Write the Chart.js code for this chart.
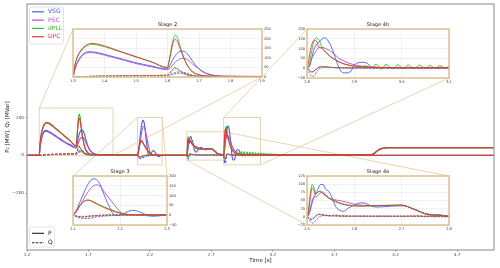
<!DOCTYPE html>
<html><head><meta charset="utf-8">
<script src="https://cdn.jsdelivr.net/npm/chart.js@4.4.1/dist/chart.umd.min.js"></script>
<style>
html,body{margin:0;padding:0;background:#fff;overflow:hidden;}
#wrap{position:relative;width:500px;height:268px;}
#wrap canvas{position:absolute;}
</style></head><body>
<div id="wrap"><canvas id="main" width="500" height="268" style="left:0;top:0;width:500px;height:268px"></canvas></div>
<script>
// ---------------- DATA ----------------
const SERIES = ['VSG', 'PSC', 'dPLL', 'DPC'];
const MAIN_X_TICKS = [1.2, 1.7, 2.2, 2.7, 3.2, 3.7, 4.2, 4.7];
const MAIN_Y_TICKS = [-200, 0, 200];
const MAIN_X_RANGE = [1.2, 5.0];
const MAIN_Y_RANGE = [-500, 800];

const STAGE_TITLES = ['Stage 2', 'Stage 3', 'Stage 4a', 'Stage 4b'];
const STAGE_X = [[1.3, 1.9], [2.1, 2.3], [2.5, 2.8], [2.8, 3.1]];
const STAGE_Y = [[0, 250], [-50, 200], [-25, 125], [-50, 200]];
const STAGE_XTICKS = [[1.3,1.4,1.5,1.6,1.7,1.8,1.9],[2.1,2.2,2.3],[2.5,2.6,2.7,2.8],[2.8,2.9,3.0,3.1]];
const STAGE_YTICKS = [[0,50,100,150,200,250],[-50,0,50,100,150,200],[-25,0,25,50,75,100,125],[-50,0,50,100,150,200]];

// common final ramp of active power
const RAMP_P = [[4.0,3],[4.01,5],[4.03,13],[4.05,24],[4.07,32],[4.09,37],[4.11,39],[4.14,40],[5.0,40]];

const VSG_P = [
[1.2,0],[1.3,0],[1.305,35],[1.31,62],[1.32,95],[1.33,117],[1.34,128],[1.35,132],[1.36,131],[1.38,126],[1.40,118],[1.43,105],[1.46,92],[1.50,74],[1.55,57],[1.60,42],
[1.605,52],[1.61,68],[1.62,100],[1.63,122],[1.64,133],[1.65,135],[1.66,126],[1.67,106],[1.68,82],[1.69,60],[1.70,42],[1.72,20],[1.75,7],[1.80,3],[2.0,2],[2.1,2],
[2.105,15],[2.11,40],[2.115,68],[2.12,97],[2.125,125],[2.13,150],[2.135,170],[2.14,182],[2.145,186],[2.15,181],[2.157,160],[2.162,130],[2.167,100],[2.172,70],[2.178,41],[2.185,8],[2.19,0],[2.195,-2],[2.2,0],[2.21,10],[2.22,22],[2.228,25],[2.24,18],[2.25,8],[2.26,-2],[2.27,-5],[2.28,-4],[2.3,0],[2.4,1],[2.5,1],
[2.504,7],[2.514,58],[2.521,78],[2.529,99],[2.534,99],[2.539,85],[2.546,78],[2.553,58],[2.56,33],[2.567,22],[2.577,17],[2.588,27],[2.602,38],[2.616,43],[2.626,40],[2.637,32],[2.65,30],[2.68,33],[2.705,34],[2.72,27],[2.735,18],[2.75,9],[2.765,6],[2.78,5],[2.8,2],
[2.803,3],[2.807,24],[2.814,91],[2.821,125],[2.826,133],[2.832,150],[2.838,155],[2.843,145],[2.85,117],[2.857,74],[2.864,24],[2.871,-14],[2.878,-24],[2.885,-24],[2.893,-14],[2.9,15],[2.907,27],[2.917,30],[2.928,24],[2.935,7],[2.946,2],[2.97,4],[3.0,3],[3.1,3],
...RAMP_P];

const PSC_P = [
[1.2,0],[1.3,0],[1.305,32],[1.31,58],[1.32,90],[1.33,112],[1.34,123],[1.35,127],[1.36,127],[1.38,122],[1.40,114],[1.43,101],[1.46,88],[1.50,70],[1.55,53],[1.60,38],
[1.61,50],[1.62,70],[1.63,85],[1.64,94],[1.65,97],[1.66,93],[1.67,82],[1.68,67],[1.70,42],[1.72,22],[1.75,8],[1.80,3],[2.0,2],[2.1,2],
[2.105,10],[2.11,28],[2.12,70],[2.13,112],[2.14,143],[2.15,155],[2.155,152],[2.164,128],[2.17,108],[2.178,83],[2.185,62],[2.193,38],[2.2,18],[2.205,8],[2.21,4],[2.22,2],[2.3,1],[2.5,1],
[2.5035,7],[2.5105,48],[2.514,58],[2.521,63],[2.528,73],[2.533,76],[2.539,70],[2.546,58],[2.556,53],[2.567,50],[2.581,46],[2.602,38],[2.623,35],[2.66,34],[2.7,35],[2.705,34],[2.72,27],[2.735,18],[2.75,9],[2.765,6],[2.78,5],[2.8,2],
[2.805,7],[2.81,49],[2.818,83],[2.825,105],[2.832,106],[2.84,100],[2.847,91],[2.857,74],[2.867,52],[2.882,32],[2.896,20],[2.917,10],[2.946,5],[3.0,3],[3.1,3],
...RAMP_P];

const DPLL_P = [
[1.2,0],[1.3,0],[1.303,33],[1.307,66],[1.31,84],[1.315,106],[1.32,122],[1.33,145],[1.34,159],[1.35,167],[1.36,170],[1.37,169],[1.38,166],[1.40,158],[1.43,142],[1.46,126],[1.50,104],[1.55,78],[1.60,50],
[1.605,85],[1.61,130],[1.615,175],[1.62,205],[1.625,219],[1.63,210],[1.635,190],[1.64,160],[1.65,110],[1.66,70],[1.67,42],[1.68,25],[1.70,10],[1.73,4],[1.8,3],[2.0,2],[2.1,2],
[2.105,16],[2.11,34],[2.115,51],[2.12,64],[2.125,73],[2.132,78],[2.14,73],[2.15,61],[2.157,52],[2.165,43],[2.178,31],[2.19,20],[2.2,13],[2.21,7],[2.22,4],[2.24,2],[2.3,1],[2.5,1],
[2.502,9],[2.506,60],[2.511,99],[2.515,88],[2.519,72],[2.523,75],[2.528,79],[2.534,72],[2.546,57],[2.56,46],[2.574,39],[2.588,35],[2.609,33],[2.651,34],[2.7,36],[2.705,35],[2.72,27],[2.735,19],[2.75,10],[2.76,8],[2.77,4],[2.78,7],[2.79,3],[2.8,2],
[2.8035,7],[2.809,74],[2.814,133],[2.82,154],[2.825,145],[2.832,108],[2.839,83],[2.85,57],[2.86,41],[2.875,24],[2.889,15],[2.9,10],[2.912,3],[2.923,12],[2.935,2],[2.946,20],[2.957,-4],[2.967,20],[2.98,-3],[2.992,18],[3.003,-3],[3.014,17],[3.026,-2],[3.038,16],[3.049,-1],[3.06,14],[3.071,0],[3.081,13],[3.092,1],[3.103,12],[3.115,1],[3.126,11],[3.137,2],[3.148,10],[3.16,2],[3.171,9],[3.182,2],[3.193,8],[3.205,3],[3.216,7],[3.227,3],[3.238,6],[3.25,3],[3.3,3],
...RAMP_P];

const DPC_P = [
[1.2,0],[1.3,0],[1.303,35],[1.307,70],[1.31,88],[1.315,110],[1.32,127],[1.33,150],[1.34,164],[1.35,172],[1.36,175],[1.37,174],[1.38,171],[1.40,162],[1.43,145],[1.46,128],[1.50,106],[1.55,78],[1.60,48],
[1.605,80],[1.61,120],[1.615,160],[1.62,188],[1.625,196],[1.63,190],[1.635,172],[1.64,148],[1.65,105],[1.66,70],[1.67,45],[1.68,28],[1.70,12],[1.73,5],[1.8,3],[2.0,2],[2.1,2],
[2.105,15],[2.11,33],[2.115,50],[2.12,63],[2.125,72],[2.132,77],[2.14,70],[2.15,58],[2.157,49],[2.165,40],[2.178,27],[2.19,17],[2.2,10],[2.21,5],[2.22,2],[2.24,2],[2.3,1],[2.5,1],
[2.502,7],[2.507,58],[2.5105,88],[2.514,83],[2.5175,68],[2.521,73],[2.526,78],[2.532,73],[2.546,58],[2.56,48],[2.574,40],[2.588,36],[2.609,33],[2.651,35],[2.7,36],[2.705,35],[2.72,27],[2.735,18],[2.75,9],[2.765,6],[2.78,5],[2.8,2],
[2.802,15],[2.807,91],[2.812,133],[2.816,142],[2.821,133],[2.825,110],[2.832,100],[2.843,74],[2.853,54],[2.868,32],[2.889,15],[2.917,7],[2.96,3],[3.1,3],
...RAMP_P];

const VSG_Q = [
[1.2,0],[1.3,0],[1.35,3],[1.45,6],[1.55,8],[1.6,8],[1.61,14],[1.62,20],[1.63,25],[1.64,27],[1.65,25],[1.66,20],[1.67,14],[1.68,9],[1.70,5],[1.75,3],[2.1,2],
[2.105,-6],[2.11,-11],[2.12,-16],[2.13,-17],[2.14,-14],[2.15,-9],[2.17,-4],[2.2,-1],[2.23,1],[2.26,-3],[2.3,0],[2.5,0],
[2.505,-10],[2.512,-19],[2.518,-12],[2.525,-2],[2.53,3],[2.54,5],[2.55,3],[2.56,6],[2.57,3],[2.6,2],[2.7,1],[2.8,0],
[2.805,-25],[2.81,-42],[2.815,-38],[2.82,-20],[2.825,-5],[2.83,3],[2.84,6],[2.85,4],[2.87,2],[2.9,1],[3.1,0],[5.0,0]];

const PSC_Q = [
[1.2,0],[1.3,0],[1.35,3],[1.45,5],[1.55,7],[1.6,7],[1.61,11],[1.62,15],[1.63,18],[1.64,20],[1.65,19],[1.66,16],[1.67,12],[1.68,8],[1.70,5],[1.75,3],[2.1,2],
[2.105,-3],[2.11,-7],[2.12,-9],[2.13,-8],[2.14,-6],[2.16,-2],[2.2,1],[2.3,1],[2.5,1],
[2.505,-4],[2.51,-8],[2.515,-4],[2.52,3],[2.525,7],[2.53,8],[2.54,5],[2.56,3],[2.6,2],[2.7,2],[2.8,1],
[2.805,-10],[2.81,-18],[2.815,-14],[2.82,-4],[2.825,4],[2.83,7],[2.84,6],[2.86,3],[2.9,2],[3.0,1],[5.0,0]];

const DPLL_Q = [
[1.2,0],[1.3,0],[1.35,3],[1.45,6],[1.55,8],[1.6,10],[1.605,18],[1.61,28],[1.615,40],[1.62,48],[1.625,50],[1.63,45],[1.64,33],[1.65,20],[1.66,12],[1.68,5],[1.70,3],[2.1,2],
[2.105,-3],[2.11,-7],[2.12,-8],[2.13,-6],[2.14,-3],[2.16,0],[2.2,2],[2.3,1],[2.5,1],
[2.505,-6],[2.51,-9],[2.515,-3],[2.52,5],[2.525,8],[2.53,6],[2.54,4],[2.56,3],[2.6,2],[2.7,2],[2.74,4],[2.75,0],[2.76,5],[2.77,-1],[2.78,4],[2.79,0],[2.8,1],
[2.805,-12],[2.81,-20],[2.815,-15],[2.82,-3],[2.825,5],[2.83,8],[2.84,6],[2.86,3],[2.9,2],[2.946,6],[2.957,-2],[2.967,6],[2.98,-2],[2.992,5],[3.003,-1],[3.014,5],[3.026,-1],[3.038,4],[3.05,0],[3.06,3],[3.1,1],[5.0,0]];

const DPC_Q = [
[1.2,0],[1.3,0],[1.35,3],[1.45,6],[1.55,8],[1.6,10],[1.605,17],[1.61,25],[1.615,36],[1.62,42],[1.625,45],[1.63,42],[1.64,32],[1.65,20],[1.66,12],[1.68,5],[1.70,3],[2.1,2],
[2.105,-3],[2.11,-7],[2.12,-8],[2.13,-6],[2.14,-3],[2.16,0],[2.2,2],[2.3,1],[2.5,1],
[2.505,-5],[2.51,-8],[2.515,-2],[2.52,5],[2.525,8],[2.53,6],[2.54,4],[2.56,3],[2.6,2],[2.7,2],[2.8,1],
[2.805,-12],[2.81,-20],[2.815,-15],[2.82,-3],[2.825,5],[2.83,8],[2.84,6],[2.86,3],[2.9,2],[3.0,1],[5.0,0]];

const P_DATA = [VSG_P, PSC_P, DPLL_P, DPC_P];
const Q_DATA = [VSG_Q, PSC_Q, DPLL_Q, DPC_Q];

// ---------------- STYLE / LAYOUT ----------------
const COLORS = ['#3f63e6', '#b04fd0', '#2ec52e', '#e63535'];
const TAN_FRAME = '#dcc290';
const TAN_LINE = '#e4d1a8';
const FONT = "'DejaVu Sans', sans-serif";
Chart.defaults.font.family = FONT;

const INSET_LAYOUT = [
  {area:[73,29,262,77],   yside:'right', links:[['tl','tl'],['br','br']]},
  {area:[73,176,167,225], yside:'right', links:[['tl','tl'],['tr','tr']]},
  {area:[307,176,449,225],yside:'left',  links:[['tr','tr'],['bl','bl']]},
  {area:[307,29,449,78],  yside:'left',  links:[['tl','tl'],['br','br']]}
];

const minus = s => s.replace('-', '\u2212');
const fmtInt = v => minus(String(Math.round(v)));
const fmt1 = v => minus((Math.round(v*10)/10).toFixed(1));

function makeDatasets(lw, dash) {
  const out = [];
  SERIES.forEach((name, i) => {
    out.push({label: name + ' P', data: P_DATA[i].map(([x, y]) => ({x, y})),
      borderColor: COLORS[i], borderWidth: lw, pointRadius: 0, fill: false,
      cubicInterpolationMode: 'monotone', order: 8 - 2*i});
    out.push({label: name + ' Q', data: Q_DATA[i].map(([x, y]) => ({x, y})),
      borderColor: COLORS[i], borderWidth: lw, borderDash: dash, pointRadius: 0, fill: false,
      cubicInterpolationMode: 'monotone', order: 7 - 2*i});
  });
  return out;
}

const wrap = document.getElementById('wrap');
const insetCharts = [];

const insetPlugin = {
  id: 'insetDeco',
  beforeDraw(chart) {
    const a = chart.chartArea, c = chart.ctx;
    c.save(); c.fillStyle = '#fff';
    c.fillRect(a.left, a.top, a.right - a.left, a.bottom - a.top);
    c.restore();
  },
  afterDraw(chart) {
    const a = chart.chartArea, c = chart.ctx;
    c.save();
    c.strokeStyle = TAN_FRAME; c.lineWidth = 1.5;
    c.strokeRect(a.left, a.top, a.right - a.left, a.bottom - a.top);
    c.fillStyle = '#222'; c.font = '5px ' + FONT;
    c.textAlign = 'center'; c.textBaseline = 'middle';
    c.fillText(chart.options.insetTitle, (a.left + a.right) / 2, a.top - 4.4);
    c.restore();
  }
};

INSET_LAYOUT.forEach((lay, i) => {
  const ML = 16, MR = 16, MT = 11, MB = 10, YW = 12, XH = 7;
  const [l, t, r, b] = lay.area;
  const W = r - l + ML + MR, H = b - t + MT + MB;
  const cv = document.createElement('canvas');
  cv.width = W; cv.height = H;
  cv.style.left = (l - ML) + 'px'; cv.style.top = (t - MT) + 'px';
  cv.style.width = W + 'px'; cv.style.height = H + 'px';
  wrap.appendChild(cv);
  const right = lay.yside === 'right';
  const ch = new Chart(cv, {
    type: 'line',
    data: {datasets: makeDatasets(0.9, [2.2, 1.2])},
    options: {
      insetTitle: STAGE_TITLES[i],
      responsive: false, animation: false, devicePixelRatio: 1, events: [],
      layout: {padding: {left: right ? ML : ML - YW, right: right ? MR - YW : MR, top: MT, bottom: MB - XH}},
      plugins: {legend: {display: false}, tooltip: {enabled: false}},
      scales: {
        x: {type: 'linear', min: STAGE_X[i][0], max: STAGE_X[i][1],
          afterBuildTicks: s => { s.ticks = STAGE_XTICKS[i].map(v => ({value: v})); },
          afterFit: s => { s.height = XH; },
          ticks: {font: {size: 3.6}, color: '#333', padding: 0.5, maxRotation: 0, minRotation: 0, autoSkip: false, callback: v => fmt1(v)},
          grid: {color: '#e8e8e8', lineWidth: 0.6, tickLength: 1.5, drawTicks: true},
          border: {display: false}},
        y: {type: 'linear', position: lay.yside, min: STAGE_Y[i][0], max: STAGE_Y[i][1],
          afterBuildTicks: s => { s.ticks = STAGE_YTICKS[i].map(v => ({value: v})); },
          afterFit: s => { s.width = YW; },
          ticks: {font: {size: 3.6}, color: '#333', padding: 0.5, autoSkip: false, callback: v => fmtInt(v)},
          grid: {color: '#e8e8e8', lineWidth: 0.6, tickLength: 1.5, drawTicks: true},
          border: {display: false}}
      }
    },
    plugins: [insetPlugin]
  });
  ch.$off = {x: l - ML, y: t - MT};
  insetCharts.push(ch);
});

function corner(box, k) {
  return [k[1] === 'l' ? box.l : box.r, k[0] === 't' ? box.t : box.b];
}

const mainPlugin = {
  id: 'mainDeco',
  beforeDatasetsDraw(chart) {
    const c = chart.ctx, xs = chart.scales.x, ys = chart.scales.y;
    c.save();
    c.strokeStyle = TAN_LINE; c.lineWidth = 0.9;
    insetCharts.forEach((ic, i) => {
      const rb = {l: xs.getPixelForValue(STAGE_X[i][0]), r: xs.getPixelForValue(STAGE_X[i][1]),
                  t: ys.getPixelForValue(STAGE_Y[i][1]), b: ys.getPixelForValue(STAGE_Y[i][0])};
      const a = ic.chartArea;
      const ib = {l: a.left + ic.$off.x, r: a.right + ic.$off.x, t: a.top + ic.$off.y, b: a.bottom + ic.$off.y};
      c.strokeRect(rb.l, rb.t, rb.r - rb.l, rb.b - rb.t);
      INSET_LAYOUT[i].links.forEach(([k1, k2]) => {
        const p = corner(rb, k1), q = corner(ib, k2);
        c.beginPath(); c.moveTo(p[0], p[1]); c.lineTo(q[0], q[1]); c.stroke();
      });
    });
    c.restore();
  },
  afterDraw(chart) {
    const c = chart.ctx, a = chart.chartArea;
    c.save();
    c.strokeStyle = '#9c9c9c'; c.lineWidth = 1.2;
    c.strokeRect(a.left, a.top, a.right - a.left, a.bottom - a.top);
    // legend: controllers
    const drawBox = (x, y, w, h) => {
      c.beginPath();
      if (c.roundRect) c.roundRect(x, y, w, h, 2); else c.rect(x, y, w, h);
      c.fillStyle = 'rgba(255,255,255,0.85)'; c.fill();
      c.strokeStyle = '#dcdcdc'; c.lineWidth = 0.8; c.stroke();
    };
    const lx = a.left + 2.5;
    drawBox(lx, a.top + 3, 34, 37);
    c.font = '6px ' + FONT; c.textBaseline = 'middle'; c.textAlign = 'left';
    SERIES.forEach((name, i) => {
      const y = a.top + 7.8 + i * 8.3;
      c.strokeStyle = COLORS[i]; c.lineWidth = 1.2; c.setLineDash([]);
      c.beginPath(); c.moveTo(lx + 2.5, y); c.lineTo(lx + 14.5, y); c.stroke();
      c.fillStyle = COLORS[i]; c.fillText(name, lx + 18.5, y);
    });
    // legend: P / Q
    drawBox(lx, a.bottom - 23, 25, 20);
    [['P', []], ['Q', [2.5, 1.3]]].forEach(([lab, dash], i) => {
      const y = a.bottom - 16.7 + i * 9.4;
      c.strokeStyle = '#222'; c.lineWidth = 1.1; c.setLineDash(dash);
      c.beginPath(); c.moveTo(lx + 2.5, y); c.lineTo(lx + 14.5, y); c.stroke();
      c.setLineDash([]);
      c.fillStyle = '#222'; c.fillText(lab, lx + 18.5, y);
    });
    c.restore();
  }
};

new Chart(document.getElementById('main'), {
  type: 'line',
  data: {datasets: makeDatasets(1.1, [2.6, 1.4])},
  options: {
    responsive: false, animation: false, devicePixelRatio: 1, events: [],
    layout: {padding: {left: 0, top: 4, right: 6, bottom: 0}},
    plugins: {legend: {display: false}, tooltip: {enabled: false}},
    scales: {
      x: {type: 'linear', min: MAIN_X_RANGE[0], max: MAIN_X_RANGE[1],
        afterBuildTicks: s => { s.ticks = MAIN_X_TICKS.map(v => ({value: v})); },
        afterFit: s => { s.height = 18; },
        ticks: {font: {size: 4.2}, color: '#444', padding: 0.5, maxRotation: 0, minRotation: 0, autoSkip: false, callback: v => fmt1(v)},
        grid: {display: true, drawOnChartArea: false, drawTicks: true, tickLength: 1.5, color: '#888'},
        border: {display: false},
        title: {display: true, text: 'Time [s]', font: {size: 5.5}, color: '#222', padding: {top: 0, bottom: 4}}},
      y: {type: 'linear', min: MAIN_Y_RANGE[0], max: MAIN_Y_RANGE[1],
        afterBuildTicks: s => { s.ticks = MAIN_Y_TICKS.map(v => ({value: v})); },
        afterFit: s => { s.width = 27; },
        ticks: {font: {size: 4.2}, color: '#444', padding: 1.5, autoSkip: false, callback: v => fmtInt(v)},
        grid: {display: true, drawOnChartArea: false, drawTicks: true, tickLength: 1.5, color: '#888'},
        border: {display: false},
        title: {display: true, text: 'P\u2082 [MW], Q\u2082 [MVar]', font: {size: 5.5}, color: '#222', padding: {top: 4, bottom: 0}}}
    }
  },
  plugins: [mainPlugin]
});
</script>
</body></html>
